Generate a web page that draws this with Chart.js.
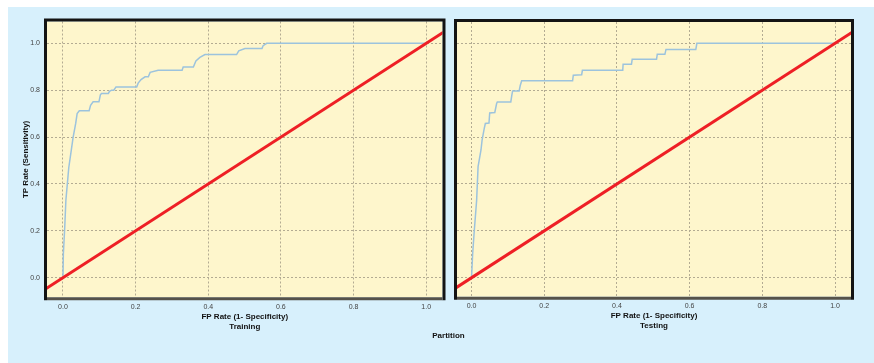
<!DOCTYPE html>
<html>
<head>
<meta charset="utf-8">
<script src="https://cdn.jsdelivr.net/npm/chart.js@4.4.0/dist/chart.umd.min.js"></script>
<style>
    body { margin: 0; width: 874px; height: 363px; background: #fff; position: relative; overflow: hidden; font-family: "Liberation Sans", Arial, sans-serif; }
    #painel { position: absolute; left: 8px; top: 7px; width: 866px; height: 356px; background: #d7f0fc; }
    canvas { position: absolute; top: 0; }
    #treino { left: 0; }
    #teste { left: 448px; }
    #particao { position: absolute; left: 398px; width: 101px; top: 331px; text-align: center; font: bold 8px/10px "Liberation Sans", Arial, sans-serif; color: #111; }
</style>
</head>
<body>
<div id="painel"></div>
<canvas id="treino" width="448" height="363"></canvas>
<canvas id="teste" width="426" height="363"></canvas>
<div id="particao">Partition</div>

<script>
// Valores
const tickValues = [0, 0.2, 0.4, 0.6, 0.8, 1.0];
const yAxisTitle = 'TP Rate (Sensitivity)';
const xAxisTitle = 'FP Rate (1- Specificity)';
const partitions = ['Training', 'Testing'];

// Curva ROC - Training
const trainFpr = [0, 0.001, 0.005, 0.008, 0.012, 0.016, 0.023, 0.028, 0.035, 0.039, 0.045, 0.072, 0.076, 0.083, 0.099, 0.103, 0.106, 0.125, 0.128, 0.134, 0.140, 0.146, 0.203, 0.207, 0.215, 0.226, 0.235, 0.240, 0.262, 0.328, 0.331, 0.359, 0.366, 0.377, 0.391, 0.478, 0.484, 0.501, 0.548, 0.551, 0.561, 1.0];
const trainTpr = [0, 0.100, 0.220, 0.330, 0.400, 0.470, 0.545, 0.600, 0.658, 0.700, 0.712, 0.712, 0.735, 0.750, 0.750, 0.780, 0.786, 0.786, 0.795, 0.800, 0.800, 0.814, 0.814, 0.830, 0.845, 0.857, 0.857, 0.876, 0.885, 0.885, 0.899, 0.899, 0.925, 0.940, 0.952, 0.952, 0.968, 0.978, 0.978, 0.990, 1.0, 1.0];

// Curva ROC - Testing
const testFpr = [0, 0.003, 0.007, 0.014, 0.018, 0.026, 0.029, 0.035, 0.038, 0.048, 0.050, 0.064, 0.069, 0.071, 0.108, 0.111, 0.113, 0.131, 0.134, 0.138, 0.278, 0.280, 0.303, 0.305, 0.416, 0.417, 0.440, 0.442, 0.509, 0.511, 0.532, 0.535, 0.617, 0.620, 1.0];
const testTpr = [0, 0.100, 0.190, 0.330, 0.474, 0.545, 0.587, 0.637, 0.658, 0.660, 0.703, 0.705, 0.743, 0.750, 0.750, 0.780, 0.797, 0.797, 0.820, 0.840, 0.840, 0.864, 0.866, 0.885, 0.885, 0.911, 0.911, 0.932, 0.932, 0.953, 0.953, 0.974, 0.974, 1.0, 1.0];

// Linha de referencia (aleatorio)
const diagX = [-0.1, 1.1];
const diagY = [-0.1, 1.1];

function pontos(xs, ys) {
    return xs.map((x, i) => ({ x: x, y: ys[i] }));
}

// Fundo amarelo e moldura preta da area do grafico
const moldura = {
    id: 'moldura',
    beforeDraw(chart) {
        const a = chart.chartArea;
        const ctx = chart.ctx;
        ctx.save();
        ctx.fillStyle = '#fef6cc';
        ctx.fillRect(a.left, a.top, a.right - a.left, a.bottom - a.top);
        ctx.restore();
    },
    afterDraw(chart) {
        const a = chart.chartArea;
        const ctx = chart.ctx;
        ctx.save();
        ctx.lineWidth = 3;
        ctx.strokeStyle = '#141414';
        ctx.beginPath();
        ctx.moveTo(a.left - 1.5, a.bottom + 3);
        ctx.lineTo(a.left - 1.5, a.top - 1.5);
        ctx.lineTo(a.right + 1.5, a.top - 1.5);
        ctx.lineTo(a.right + 1.5, a.bottom + 3);
        ctx.stroke();
        ctx.strokeStyle = '#55524a';
        ctx.beginPath();
        ctx.moveTo(a.left, a.bottom + 1.5);
        ctx.lineTo(a.right, a.bottom + 1.5);
        ctx.stroke();
        ctx.restore();
    }
};

function criarGrafico(id, fpr, tpr, partition, cfg) {
    return new Chart(document.getElementById(id), {
        type: 'line',
        data: {
            datasets: [
                {
                    data: pontos(diagX, diagY),
                    borderColor: '#ee1f25',
                    borderWidth: 3,
                    pointRadius: 0
                },
                {
                    data: pontos(fpr, tpr),
                    borderColor: '#9cc3dd',
                    borderWidth: 1.5,
                    pointRadius: 0
                }
            ]
        },
        options: {
            responsive: false,
            animation: false,
            devicePixelRatio: 1,
            layout: { padding: cfg.padding },
            plugins: { legend: { display: false }, tooltip: { enabled: false } },
            scales: {
                x: {
                    type: 'linear',
                    min: cfg.xMin,
                    max: cfg.xMax,
                    afterBuildTicks: s => { s.ticks = tickValues.map(v => ({ value: v })); },
                    afterFit: s => { s.height = 34.4; },
                    grid: { color: '#b3ab92', lineWidth: 1, drawTicks: false },
                    border: { display: false, dash: [2, 2] },
                    ticks: {
                        padding: 5.6,
                        color: '#444',
                        font: { family: 'Liberation Sans', size: 7 },
                        callback: v => v.toFixed(1),
                        maxRotation: 0
                    },
                    title: {
                        display: true,
                        text: [xAxisTitle, partition],
                        color: '#111',
                        padding: 0,
                        font: { family: 'Liberation Sans', size: 8, weight: 'bold', lineHeight: 1.25 }
                    }
                },
                y: {
                    type: 'linear',
                    min: cfg.yMin,
                    max: cfg.yMax,
                    afterBuildTicks: s => { s.ticks = tickValues.map(v => ({ value: v })); },
                    afterFit: s => { s.width = cfg.yWidth; },
                    grid: { color: '#b3ab92', lineWidth: 1, drawTicks: false },
                    border: { display: false, dash: [2, 2] },
                    ticks: {
                        display: cfg.showY,
                        padding: 7,
                        color: '#444',
                        font: { family: 'Liberation Sans', size: 7 },
                        callback: v => v.toFixed(1)
                    },
                    title: {
                        display: cfg.showY,
                        text: yAxisTitle,
                        color: '#111',
                        padding: 0,
                        font: { family: 'Liberation Sans', size: 8, weight: 'bold' }
                    }
                }
            }
        },
        plugins: [moldura]
    });
}

criarGrafico('treino', trainFpr, trainTpr, partitions[0], {
    padding: { left: 21, top: 21.5, right: 5.5, bottom: 31.3 },
    xMin: -0.044, xMax: 1.045, yMin: -0.084, yMax: 1.093,
    yWidth: 26, showY: true
});

criarGrafico('teste', testFpr, testTpr, partitions[1], {
    padding: { left: 9, top: 22, right: 23, bottom: 31.9 },
    xMin: -0.040, xMax: 1.044, yMin: -0.081, yMax: 1.091,
    yWidth: 0, showY: false
});
</script>
</body>
</html>
